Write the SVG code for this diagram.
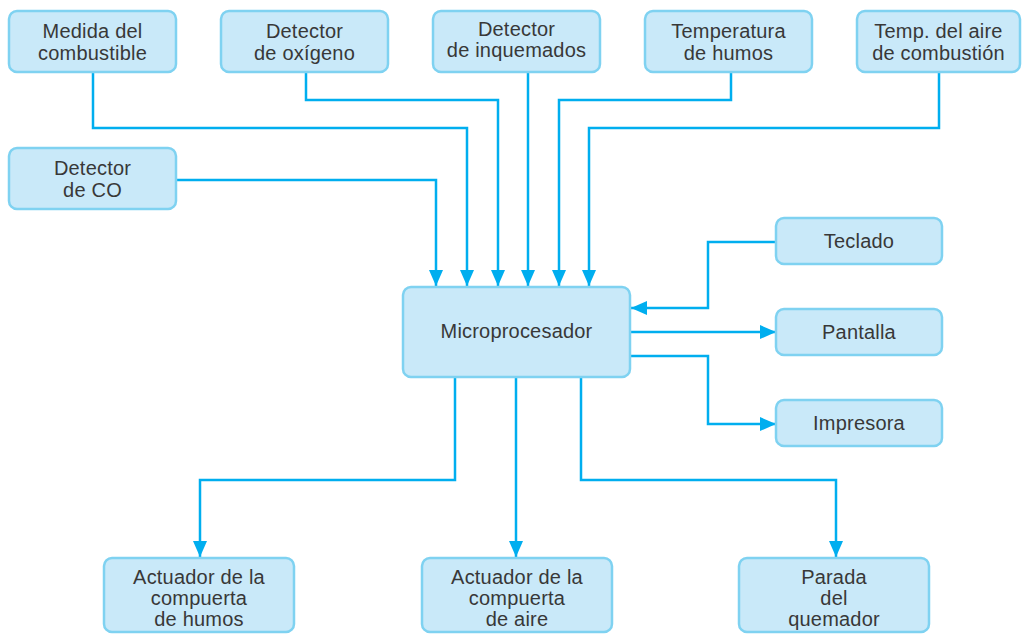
<svg xmlns="http://www.w3.org/2000/svg" width="1022" height="634" viewBox="0 0 1022 634">
  <defs>
    <marker id="arrow" viewBox="0 0 16 14" refX="16" refY="7" markerWidth="16" markerHeight="14" markerUnits="userSpaceOnUse" orient="auto">
      <path d="M0,0 L16,7 L0,14 Z" fill="#00aeef"/>
    </marker>
  </defs>
  <style>
    .box { fill: #c9e9f9; stroke: #7fd2f1; stroke-width: 2.5; }
    .lbl { font-family: "Liberation Sans", Arial, sans-serif; font-size: 20px; letter-spacing: 0.2px; fill: #383838; text-anchor: middle; }
    .wire { fill: none; stroke: #00aeef; stroke-width: 2.5; }
    .arr { marker-end: url(#arrow); }
  </style>
  <rect width="1022" height="634" fill="#ffffff"/>

  <!-- connectors -->
  <g id="connectors">
    <path class="wire arr" d="M93,72 V128 H467 V286"/>
    <path class="wire arr" d="M306,72 V100 H498 V286"/>
    <path class="wire arr" d="M528,72 V286"/>
    <path class="wire arr" d="M731,72 V100 H559 V286"/>
    <path class="wire arr" d="M939,72 V128 H589 V286"/>
    <path class="wire arr" d="M176,180 H436 V286"/>
    <path class="wire arr" d="M776,242 H708 V308 H631"/>
    <path class="wire arr" d="M630,332 H776"/>
    <path class="wire arr" d="M630,356 H708 V424 H776"/>
    <path class="wire arr" d="M455,377 V480 H200 V557"/>
    <path class="wire arr" d="M516,377 V557"/>
    <path class="wire arr" d="M581,377 V480 H836 V557"/>
  </g>

  <g id="n-combustible">
    <rect class="box" x="9" y="11" width="167" height="61" rx="8"/>
    <text class="lbl" x="92.5" y="38">Medida del</text>
    <text class="lbl" x="92.5" y="60">combustible</text>
  </g>
  <g id="n-oxigeno">
    <rect class="box" x="221" y="11" width="167" height="61" rx="8"/>
    <text class="lbl" x="304.5" y="38">Detector</text>
    <text class="lbl" x="304.5" y="60">de oxígeno</text>
  </g>
  <g id="n-inquemados">
    <rect class="box" x="433" y="11" width="167" height="61" rx="8"/>
    <text class="lbl" x="516.5" y="36">Detector</text>
    <text class="lbl" x="516.5" y="57">de inquemados</text>
  </g>
  <g id="n-humos">
    <rect class="box" x="645" y="11" width="167" height="61" rx="8"/>
    <text class="lbl" x="728.5" y="38">Temperatura</text>
    <text class="lbl" x="728.5" y="60">de humos</text>
  </g>
  <g id="n-aire">
    <rect class="box" x="857" y="11" width="163" height="61" rx="8"/>
    <text class="lbl" x="938.5" y="38">Temp. del aire</text>
    <text class="lbl" x="938.5" y="60">de combustión</text>
  </g>
  <g id="n-co">
    <rect class="box" x="9" y="148" width="167" height="61" rx="8"/>
    <text class="lbl" x="92.5" y="175">Detector</text>
    <text class="lbl" x="92.5" y="197">de CO</text>
  </g>
  <g id="n-micro">
    <rect class="box" x="403" y="287" width="227" height="90" rx="8"/>
    <text class="lbl" x="516.5" y="338">Microprocesador</text>
  </g>
  <g id="n-teclado">
    <rect class="box" x="776" y="218" width="166" height="46" rx="8"/>
    <text class="lbl" x="859" y="248">Teclado</text>
  </g>
  <g id="n-pantalla">
    <rect class="box" x="776" y="309" width="166" height="46" rx="8"/>
    <text class="lbl" x="859" y="339">Pantalla</text>
  </g>
  <g id="n-impresora">
    <rect class="box" x="776" y="400" width="166" height="46" rx="8"/>
    <text class="lbl" x="859" y="430">Impresora</text>
  </g>
  <g id="n-act-humos">
    <rect class="box" x="104" y="558" width="190" height="74" rx="8"/>
    <text class="lbl" x="199" y="584">Actuador de la</text>
    <text class="lbl" x="199" y="605">compuerta</text>
    <text class="lbl" x="199" y="626">de humos</text>
  </g>
  <g id="n-act-aire">
    <rect class="box" x="422" y="558" width="190" height="74" rx="8"/>
    <text class="lbl" x="517" y="584">Actuador de la</text>
    <text class="lbl" x="517" y="605">compuerta</text>
    <text class="lbl" x="517" y="626">de aire</text>
  </g>
  <g id="n-parada">
    <rect class="box" x="739" y="558" width="190" height="74" rx="8"/>
    <text class="lbl" x="834" y="584">Parada</text>
    <text class="lbl" x="834" y="605">del</text>
    <text class="lbl" x="834" y="626">quemador</text>
  </g>
</svg>
